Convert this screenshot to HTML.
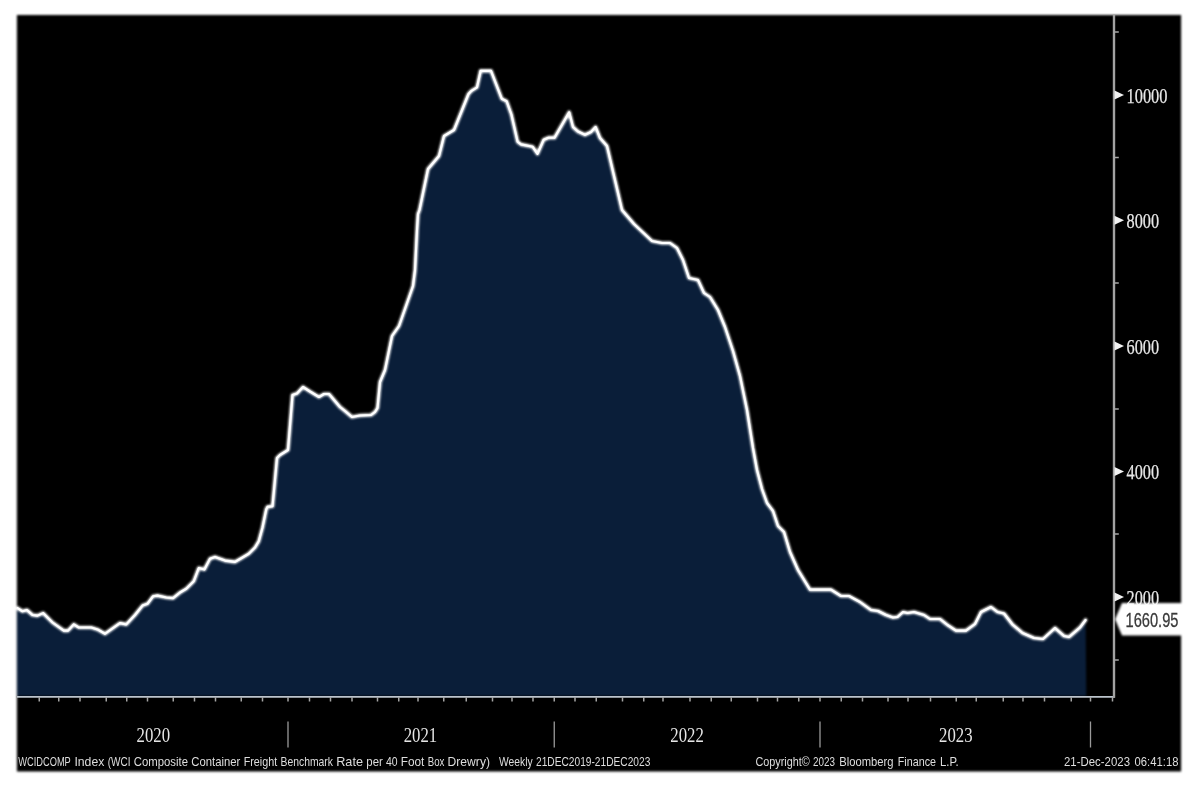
<!DOCTYPE html>
<html lang="en"><head><meta charset="utf-8"><title>WCIDCOMP Index</title>
<style>
html,body{margin:0;padding:0;background:#fff;width:1200px;height:800px;overflow:hidden}
svg{display:block}
</style></head><body>
<svg width="1200" height="800" viewBox="0 0 1200 800">
<rect x="0" y="0" width="1200" height="800" fill="#ffffff"/>
<defs><filter id="soft" color-interpolation-filters="sRGB" x="0" y="0" width="1200" height="800" filterUnits="userSpaceOnUse"><feGaussianBlur stdDeviation="0.9"/></filter></defs>
<g filter="url(#soft)">
<rect x="16.9" y="15" width="1164.2" height="756.5" fill="#000000"/>
<path d="M16.9,696 L16.9,608.1 L17.5,608.1 L22.5,611.3 L26.9,610 L32.5,615 L37.5,615.6 L43.1,613.1 L52.5,622.5 L63.75,630.6 L68.1,630.6 L73.75,624.4 L78.75,627.5 L91.25,627.5 L97.5,629.4 L105,633.75 L120,623.1 L126.25,624.4 L135,615 L142.5,605.6 L147.5,603.75 L153.1,596.25 L157.5,595.6 L166.25,597.5 L173.1,598.1 L180,592.5 L186.25,588.75 L193.75,581.25 L198.75,568.1 L204.4,569.4 L210,558.75 L215,556.9 L225,560.6 L235,561.9 L242.5,557.5 L248.75,553.75 L255,547.5 L258.75,541.25 L262.5,527.5 L266.25,509.4 L267.5,506.9 L272.5,506.25 L277,458 L280,455 L288,450 L292.5,395 L297,393.5 L303,387 L310,391.5 L319,397 L324,394 L329,394 L340,407 L345,411 L352,417 L360,415.5 L371,415 L375,412 L377.5,408 L380,382 L385,370 L392,336 L399,326 L413,286 L415,270 L417,230 L418,214 L419.5,210 L428,169 L439,156 L444,136 L454,130 L468.5,94 L471.5,90.8 L477,87.3 L480.6,70.9 L491,70.9 L501.8,98.8 L506.6,101.2 L511.4,114.5 L517.6,141.7 L521,144.4 L532.7,146.8 L537.5,153.8 L543.7,139.8 L548.5,137.7 L554.5,137.7 L569.2,112.3 L573,127 L578,131.5 L585,134.8 L591,132 L595.6,127 L600,138 L607,146 L622,210 L634,224 L652,241 L662,243 L670,243 L677,248 L683,260 L689,278 L698,280 L704,293 L710,297 L718,310 L725,327 L733,351 L740,376 L747,410 L753,448 L757,470 L762,489 L767,503 L773,511 L778,526 L784,532 L790,552 L798,570 L810,589.6 L831,589.6 L841,596 L849,596 L860,602 L871,610 L878,611 L886,615 L893,617.5 L897.5,617 L903,612 L907.5,613 L914,612 L924,615 L930,619 L940,619 L947.5,625 L956,630.6 L966,630.6 L975,624 L981,612 L991,607 L997.5,612 L1004,613.5 L1012.5,624.5 L1022.5,633 L1034,638 L1043,639 L1055,628 L1064,636 L1069,637 L1080,627.5 L1085.6,620 L1086.3,696 Z" fill="#0a1e39"/>
<path d="M17.5,608.1 L22.5,611.3 L26.9,610 L32.5,615 L37.5,615.6 L43.1,613.1 L52.5,622.5 L63.75,630.6 L68.1,630.6 L73.75,624.4 L78.75,627.5 L91.25,627.5 L97.5,629.4 L105,633.75 L120,623.1 L126.25,624.4 L135,615 L142.5,605.6 L147.5,603.75 L153.1,596.25 L157.5,595.6 L166.25,597.5 L173.1,598.1 L180,592.5 L186.25,588.75 L193.75,581.25 L198.75,568.1 L204.4,569.4 L210,558.75 L215,556.9 L225,560.6 L235,561.9 L242.5,557.5 L248.75,553.75 L255,547.5 L258.75,541.25 L262.5,527.5 L266.25,509.4 L267.5,506.9 L272.5,506.25 L277,458 L280,455 L288,450 L292.5,395 L297,393.5 L303,387 L310,391.5 L319,397 L324,394 L329,394 L340,407 L345,411 L352,417 L360,415.5 L371,415 L375,412 L377.5,408 L380,382 L385,370 L392,336 L399,326 L413,286 L415,270 L417,230 L418,214 L419.5,210 L428,169 L439,156 L444,136 L454,130 L468.5,94 L471.5,90.8 L477,87.3 L480.6,70.9 L491,70.9 L501.8,98.8 L506.6,101.2 L511.4,114.5 L517.6,141.7 L521,144.4 L532.7,146.8 L537.5,153.8 L543.7,139.8 L548.5,137.7 L554.5,137.7 L569.2,112.3 L573,127 L578,131.5 L585,134.8 L591,132 L595.6,127 L600,138 L607,146 L622,210 L634,224 L652,241 L662,243 L670,243 L677,248 L683,260 L689,278 L698,280 L704,293 L710,297 L718,310 L725,327 L733,351 L740,376 L747,410 L753,448 L757,470 L762,489 L767,503 L773,511 L778,526 L784,532 L790,552 L798,570 L810,589.6 L831,589.6 L841,596 L849,596 L860,602 L871,610 L878,611 L886,615 L893,617.5 L897.5,617 L903,612 L907.5,613 L914,612 L924,615 L930,619 L940,619 L947.5,625 L956,630.6 L966,630.6 L975,624 L981,612 L991,607 L997.5,612 L1004,613.5 L1012.5,624.5 L1022.5,633 L1034,638 L1043,639 L1055,628 L1064,636 L1069,637 L1080,627.5 L1085.6,620" fill="none" stroke="#ffffff" stroke-width="3.7" stroke-linejoin="round" stroke-linecap="round"/>
</g>
<path d="M17.5,608.1 L22.5,611.3 L26.9,610 L32.5,615 L37.5,615.6 L43.1,613.1 L52.5,622.5 L63.75,630.6 L68.1,630.6 L73.75,624.4 L78.75,627.5 L91.25,627.5 L97.5,629.4 L105,633.75 L120,623.1 L126.25,624.4 L135,615 L142.5,605.6 L147.5,603.75 L153.1,596.25 L157.5,595.6 L166.25,597.5 L173.1,598.1 L180,592.5 L186.25,588.75 L193.75,581.25 L198.75,568.1 L204.4,569.4 L210,558.75 L215,556.9 L225,560.6 L235,561.9 L242.5,557.5 L248.75,553.75 L255,547.5 L258.75,541.25 L262.5,527.5 L266.25,509.4 L267.5,506.9 L272.5,506.25 L277,458 L280,455 L288,450 L292.5,395 L297,393.5 L303,387 L310,391.5 L319,397 L324,394 L329,394 L340,407 L345,411 L352,417 L360,415.5 L371,415 L375,412 L377.5,408 L380,382 L385,370 L392,336 L399,326 L413,286 L415,270 L417,230 L418,214 L419.5,210 L428,169 L439,156 L444,136 L454,130 L468.5,94 L471.5,90.8 L477,87.3 L480.6,70.9 L491,70.9 L501.8,98.8 L506.6,101.2 L511.4,114.5 L517.6,141.7 L521,144.4 L532.7,146.8 L537.5,153.8 L543.7,139.8 L548.5,137.7 L554.5,137.7 L569.2,112.3 L573,127 L578,131.5 L585,134.8 L591,132 L595.6,127 L600,138 L607,146 L622,210 L634,224 L652,241 L662,243 L670,243 L677,248 L683,260 L689,278 L698,280 L704,293 L710,297 L718,310 L725,327 L733,351 L740,376 L747,410 L753,448 L757,470 L762,489 L767,503 L773,511 L778,526 L784,532 L790,552 L798,570 L810,589.6 L831,589.6 L841,596 L849,596 L860,602 L871,610 L878,611 L886,615 L893,617.5 L897.5,617 L903,612 L907.5,613 L914,612 L924,615 L930,619 L940,619 L947.5,625 L956,630.6 L966,630.6 L975,624 L981,612 L991,607 L997.5,612 L1004,613.5 L1012.5,624.5 L1022.5,633 L1034,638 L1043,639 L1055,628 L1064,636 L1069,637 L1080,627.5 L1085.6,620" fill="none" stroke="#ffffff" stroke-width="2.1" stroke-linejoin="round" stroke-linecap="round"/>
<g stroke="#a2a2a2" stroke-width="2">
<line x1="17" y1="696.8" x2="1114.8" y2="696.8" stroke="#bcc4cc" stroke-width="1.8"/>
<line x1="1114" y1="15" x2="1114" y2="697.8" stroke-width="2.4"/>
</g>
<g stroke="#a6a6a6" stroke-width="1.5"><line x1="39.25" y1="697" x2="39.25" y2="701.5"/><line x1="58.75" y1="697" x2="58.75" y2="701.5"/><line x1="80" y1="697" x2="80" y2="701.5"/><line x1="106.25" y1="697" x2="106.25" y2="701.5"/><line x1="126.75" y1="697" x2="126.75" y2="701.5"/><line x1="147.5" y1="697" x2="147.5" y2="701.5"/><line x1="173.25" y1="697" x2="173.25" y2="701.5"/><line x1="194.5" y1="697" x2="194.5" y2="701.5"/><line x1="215.5" y1="697" x2="215.5" y2="701.5"/><line x1="241.25" y1="697" x2="241.25" y2="701.5"/><line x1="262.5" y1="697" x2="262.5" y2="701.5"/><line x1="288" y1="697" x2="288" y2="701.5"/><line x1="309.5" y1="697" x2="309.5" y2="701.5"/><line x1="330.5" y1="697" x2="330.5" y2="701.5"/><line x1="352" y1="697" x2="352" y2="701.5"/><line x1="377.5" y1="697" x2="377.5" y2="701.5"/><line x1="398.75" y1="697" x2="398.75" y2="701.5"/><line x1="418" y1="697" x2="418" y2="701.5"/><line x1="443.75" y1="697" x2="443.75" y2="701.5"/><line x1="466.25" y1="697" x2="466.25" y2="701.5"/><line x1="492.5" y1="697" x2="492.5" y2="701.5"/><line x1="512" y1="697" x2="512" y2="701.5"/><line x1="533" y1="697" x2="533" y2="701.5"/><line x1="554.25" y1="697" x2="554.25" y2="701.5"/><line x1="575" y1="697" x2="575" y2="701.5"/><line x1="596.25" y1="697" x2="596.25" y2="701.5"/><line x1="622.5" y1="697" x2="622.5" y2="701.5"/><line x1="643.75" y1="697" x2="643.75" y2="701.5"/><line x1="663" y1="697" x2="663" y2="701.5"/><line x1="690" y1="697" x2="690" y2="701.5"/><line x1="711.25" y1="697" x2="711.25" y2="701.5"/><line x1="731.25" y1="697" x2="731.25" y2="701.5"/><line x1="757.5" y1="697" x2="757.5" y2="701.5"/><line x1="777.5" y1="697" x2="777.5" y2="701.5"/><line x1="798.75" y1="697" x2="798.75" y2="701.5"/><line x1="820" y1="697" x2="820" y2="701.5"/><line x1="841.25" y1="697" x2="841.25" y2="701.5"/><line x1="862.5" y1="697" x2="862.5" y2="701.5"/><line x1="888" y1="697" x2="888" y2="701.5"/><line x1="908" y1="697" x2="908" y2="701.5"/><line x1="930.5" y1="697" x2="930.5" y2="701.5"/><line x1="956.25" y1="697" x2="956.25" y2="701.5"/><line x1="976.25" y1="697" x2="976.25" y2="701.5"/><line x1="1003.25" y1="697" x2="1003.25" y2="701.5"/><line x1="1023" y1="697" x2="1023" y2="701.5"/><line x1="1044.5" y1="697" x2="1044.5" y2="701.5"/><line x1="1071.25" y1="697" x2="1071.25" y2="701.5"/><line x1="1090.5" y1="697" x2="1090.5" y2="701.5"/><line x1="1112.5" y1="697" x2="1112.5" y2="701.5"/></g>
<g stroke="#9a9a9a" stroke-width="1.3"><line x1="288" y1="721.5" x2="288" y2="747.5"/><line x1="554.25" y1="721.5" x2="554.25" y2="747.5"/><line x1="820" y1="721.5" x2="820" y2="747.5"/><line x1="1090.5" y1="721.5" x2="1090.5" y2="747.5"/></g>
<g stroke="#a6a6a6" stroke-width="1.5"><line x1="1114" y1="32" x2="1118.8" y2="32"/><line x1="1114" y1="157.5" x2="1118.8" y2="157.5"/><line x1="1114" y1="283" x2="1118.8" y2="283"/><line x1="1114" y1="409" x2="1118.8" y2="409"/><line x1="1114" y1="534" x2="1118.8" y2="534"/><line x1="1114" y1="660" x2="1118.8" y2="660"/></g>
<g fill="#f2f2f2"><path d="M1114.5,90.5 L1124,95 L1114.5,99.5 Z"/><path d="M1114.5,215.8 L1124,220.3 L1114.5,224.8 Z"/><path d="M1114.5,341.5 L1124,346 L1114.5,350.5 Z"/><path d="M1114.5,467 L1124,471.5 L1114.5,476 Z"/><path d="M1114.5,592.5 L1124,597 L1114.5,601.5 Z"/></g>
<g font-family="'Liberation Serif', serif" font-size="21.5" fill="#e8e8e8" stroke="#e8e8e8" stroke-width="0.25">
<text x="1126.5" y="102.6" textLength="41" lengthAdjust="spacingAndGlyphs">10000</text>
<text x="1126.5" y="227.9" textLength="32.5" lengthAdjust="spacingAndGlyphs">8000</text>
<text x="1126.5" y="353.6" textLength="32.5" lengthAdjust="spacingAndGlyphs">6000</text>
<text x="1126.5" y="479.1" textLength="32.5" lengthAdjust="spacingAndGlyphs">4000</text>
<text x="1126.5" y="604.6" textLength="32.5" lengthAdjust="spacingAndGlyphs">2000</text>
</g>
<g font-family="'Liberation Serif', serif" font-size="20" fill="#e6e6e6" text-anchor="middle">
<text x="153.3" y="741.8" textLength="33.5" lengthAdjust="spacingAndGlyphs">2020</text>
<text x="420.4" y="741.8" textLength="33.5" lengthAdjust="spacingAndGlyphs">2021</text>
<text x="687" y="741.8" textLength="33.5" lengthAdjust="spacingAndGlyphs">2022</text>
<text x="955.8" y="741.8" textLength="33.5" lengthAdjust="spacingAndGlyphs">2023</text>
</g>
<g filter="url(#soft)"><path d="M1115,619.2 L1122,603 L1200,603 L1200,635.6 L1122,635.6 Z" fill="#ffffff"/></g>
<text x="1125.5" y="626.9" font-family="'Liberation Sans', sans-serif" font-size="20" fill="#3a3a3a" stroke="#3a3a3a" stroke-width="0.3" textLength="53" lengthAdjust="spacingAndGlyphs">1660.95</text>
<g font-family="'Liberation Sans', sans-serif" font-size="13.4" fill="#dedede">
<text x="18.3" y="765.6" textLength="52.5" lengthAdjust="spacingAndGlyphs">WCIDCOMP</text>
<text x="74.4" y="765.6" textLength="29.9" lengthAdjust="spacingAndGlyphs">Index</text>
<text x="107.7" y="765.6" textLength="22.8" lengthAdjust="spacingAndGlyphs">(WCI</text>
<text x="133.8" y="765.6" textLength="54.2" lengthAdjust="spacingAndGlyphs">Composite</text>
<text x="191.3" y="765.6" textLength="49" lengthAdjust="spacingAndGlyphs">Container</text>
<text x="243.7" y="765.6" textLength="33.5" lengthAdjust="spacingAndGlyphs">Freight</text>
<text x="280.5" y="765.6" textLength="52.5" lengthAdjust="spacingAndGlyphs">Benchmark</text>
<text x="336.2" y="765.6" textLength="26.8" lengthAdjust="spacingAndGlyphs">Rate</text>
<text x="366.3" y="765.6" textLength="16.5" lengthAdjust="spacingAndGlyphs">per</text>
<text x="386" y="765.6" textLength="11.6" lengthAdjust="spacingAndGlyphs">40</text>
<text x="400.8" y="765.6" textLength="23.6" lengthAdjust="spacingAndGlyphs">Foot</text>
<text x="427.7" y="765.6" textLength="16.7" lengthAdjust="spacingAndGlyphs">Box</text>
<text x="447.6" y="765.6" textLength="42.4" lengthAdjust="spacingAndGlyphs">Drewry)</text>
<text x="499" y="765.6" textLength="33.6" lengthAdjust="spacingAndGlyphs">Weekly</text>
<text x="536" y="765.6" textLength="114.3" lengthAdjust="spacingAndGlyphs">21DEC2019-21DEC2023</text>
<text x="755.5" y="765.6" textLength="54.3" lengthAdjust="spacingAndGlyphs">Copyright©</text>
<text x="813" y="765.6" textLength="22" lengthAdjust="spacingAndGlyphs">2023</text>
<text x="839.3" y="765.6" textLength="54.2" lengthAdjust="spacingAndGlyphs">Bloomberg</text>
<text x="897.8" y="765.6" textLength="38.2" lengthAdjust="spacingAndGlyphs">Finance</text>
<text x="940" y="765.6" textLength="18.7" lengthAdjust="spacingAndGlyphs">L.P.</text>
<text x="1064" y="765.6" textLength="66" lengthAdjust="spacingAndGlyphs">21-Dec-2023</text>
<text x="1134.6" y="765.6" textLength="43.8" lengthAdjust="spacingAndGlyphs">06:41:18</text>
</g>
</svg>
</body></html>
